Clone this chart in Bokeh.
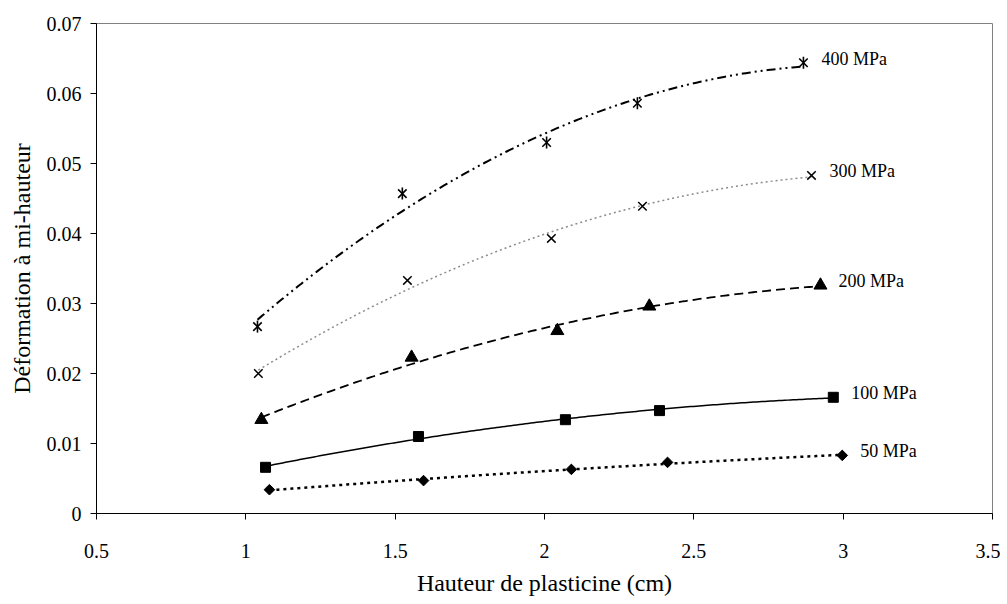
import numpy as np
from bokeh.plotting import figure
from bokeh.models import FixedTicker, Range1d
from bokeh.core.properties import value
from bokeh.embed import file_html
from bokeh.resources import INLINE

# ---------------- data ----------------
x_ticks = [0.5, 1.0, 1.5, 2.0, 2.5, 3.0, 3.5]
x_tick_labels = ["0.5", "1", "1.5", "2", "2.5", "3", "3.5"]
y_ticks = [0.0, 0.01, 0.02, 0.03, 0.04, 0.05, 0.06, 0.07]
y_tick_labels = ["0", "0.01", "0.02", "0.03", "0.04", "0.05", "0.06", "0.07"]

series_names = ["400 MPa", "300 MPa", "200 MPa", "100 MPa", "50 MPa"]

x_400 = [1.039, 1.524, 2.007, 2.311, 2.867]
y_400 = [0.0267, 0.0457, 0.0530, 0.0586, 0.0644]

x_300 = [1.042, 1.541, 2.023, 2.328, 2.894]
y_300 = [0.0200, 0.0333, 0.0393, 0.0439, 0.0483]

x_200 = [1.052, 1.555, 2.043, 2.351, 2.924]
y_200 = [0.0134, 0.0223, 0.0261, 0.0296, 0.0326]

x_100 = [1.066, 1.578, 2.070, 2.385, 2.967]
y_100 = [0.0066, 0.0110, 0.0134, 0.0147, 0.0166]

x_50 = [1.079, 1.595, 2.090, 2.412, 2.997]
y_50 = [0.0034, 0.0047, 0.0063, 0.0073, 0.0083]

x_title = "Hauteur de plasticine (cm)"
y_title = "Déformation à mi-hauteur"

FONT = "Liberation Serif"

p = figure(width=1000, height=598,
           x_range=Range1d(0.5, 3.5), y_range=Range1d(0, 0.07),
           output_backend="svg", toolbar_location=None,
           min_border_left=96, min_border_right=8,
           min_border_top=23, min_border_bottom=85)

p.background_fill_color = "white"
p.border_fill_color = "white"
p.outline_line_color = "#808080"
p.outline_line_width = 1
p.xgrid.visible = False
p.ygrid.visible = False

for ax in (p.xaxis[0], p.yaxis[0]):
    ax.axis_line_color = "black"
    ax.major_tick_line_color = "black"
    ax.minor_tick_line_color = None
    ax.major_tick_in = 0
    ax.major_tick_out = 6
    ax.major_label_text_font = FONT
    ax.major_label_text_font_size = "20px"
    ax.major_label_text_color = "black"
    ax.axis_label_text_font = FONT
    ax.axis_label_text_font_size = "24px"
    ax.axis_label_text_font_style = "normal"
    ax.axis_label_text_color = "black"

p.xaxis.ticker = FixedTicker(ticks=x_ticks)
p.xaxis.major_label_overrides = dict(zip(x_ticks, x_tick_labels))
p.yaxis.ticker = FixedTicker(ticks=y_ticks)
p.yaxis.major_label_overrides = dict(zip(y_ticks, y_tick_labels))
p.xaxis.axis_label = x_title
p.yaxis.axis_label = y_title
p.xaxis.major_label_standoff = 24
p.xaxis.axis_label_standoff = 9
p.yaxis.major_label_standoff = 9
p.yaxis.axis_label_standoff = 9


def trend(xs, ys):
    c = np.polyfit(xs, ys, 2)
    xx = np.linspace(min(xs), max(xs), 200)
    return xx, np.polyval(c, xx)


# trend lines
xx, yy = trend(x_400, y_400)
p.line(xx, yy, line_color="black", line_width=2, line_dash="9 4 2 4 2 4")
xx, yy = trend(x_300, y_300)
p.line(xx, yy, line_color="#8c8c8c", line_width=1.5, line_dash="2 3")
xx, yy = trend(x_200, y_200)
p.line(xx, yy, line_color="black", line_width=1.8, line_dash="9 5")
xx, yy = trend(x_100, y_100)
p.line(xx, yy, line_color="black", line_width=1.5)
xx, yy = trend(x_50, y_50)
p.line(xx, yy, line_color="black", line_width=2.5, line_dash="3 4")

# markers
p.scatter(x_400, y_400, marker="x", size=12, line_color="black", line_width=1.6)
p.scatter(x_400, y_400, marker="dash", angle=np.pi / 2, size=12, line_color="black", line_width=1.6)
p.scatter(x_300, y_300, marker="x", size=12, line_color="black", line_width=1.5)
p.scatter(x_200, y_200, marker="triangle", size=13, fill_color="black", line_color="black")
p.scatter(x_100, y_100, marker="square", size=10, fill_color="black", line_color="black")
p.scatter(x_50, y_50, marker="square", angle=np.pi / 4, size=7.5, fill_color="black", line_color="black")

# end labels
last_x = [x_400[-1], x_300[-1], x_200[-1], x_100[-1], x_50[-1]]
last_y = [y_400[-1], y_300[-1], y_200[-1], y_100[-1], y_50[-1]]
p.text(x=last_x, y=last_y, text=series_names, x_offset=18, y_offset=-4,
       text_baseline="middle", text_align="left",
       text_font=value(FONT), text_font_size="18px", text_color="black")

open("out.html", "w").write(file_html(p, INLINE))
